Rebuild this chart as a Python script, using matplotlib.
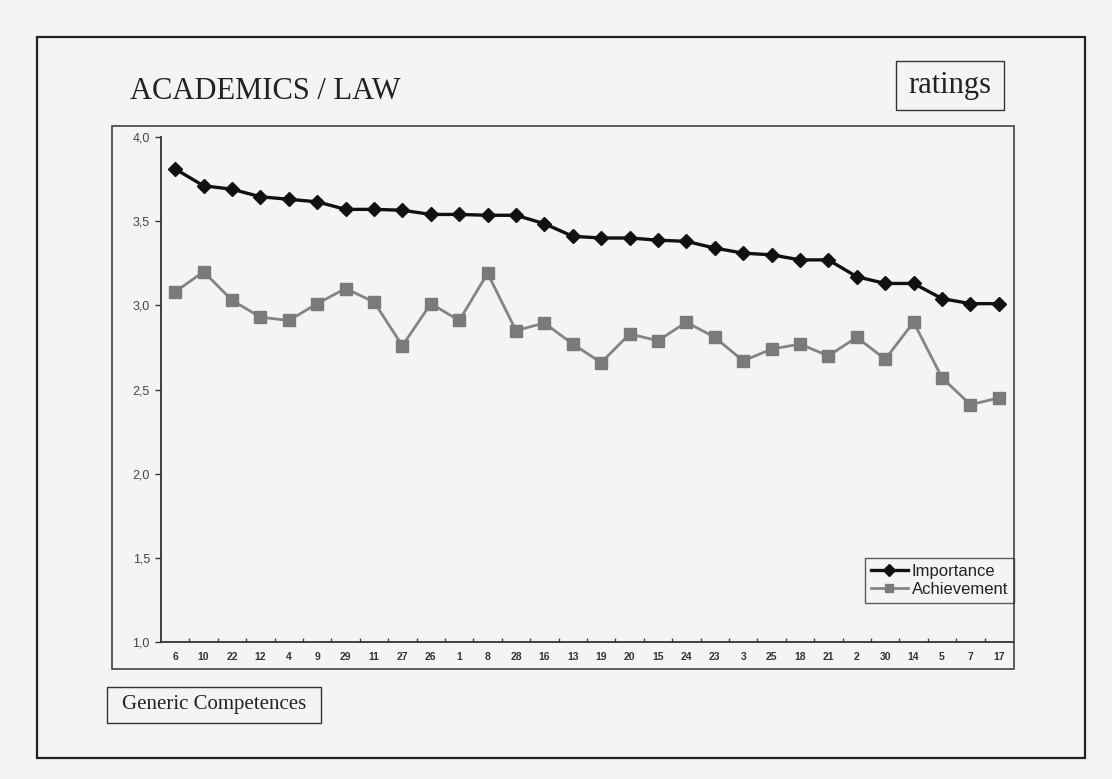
import matplotlib
matplotlib.use("Agg")
import matplotlib.pyplot as plt
from matplotlib.patches import Rectangle

categories = ["6", "10", "22", "12", "4", "9", "29", "11", "27", "26", "1", "8", "28", "16",
              "13", "19", "20", "15", "24", "23", "3", "25", "18", "21", "2", "30", "14", "5", "7", "17"]
importance = [3.81, 3.71, 3.69, 3.645, 3.63, 3.615, 3.57, 3.57, 3.565, 3.54, 3.54, 3.535, 3.535, 3.485,
              3.41, 3.40, 3.40, 3.387, 3.38, 3.34, 3.31, 3.30, 3.27, 3.27, 3.17, 3.13, 3.13, 3.04, 3.01, 3.01]
achievement = [3.08, 3.20, 3.03, 2.93, 2.91, 3.01, 3.10, 3.02, 2.76, 3.01, 2.91, 3.19, 2.85, 2.895,
               2.77, 2.66, 2.83, 2.79, 2.90, 2.81, 2.67, 2.74, 2.77, 2.70, 2.81, 2.68, 2.90, 2.57, 2.41, 2.45]
yticks = [1.0, 1.5, 2.0, 2.5, 3.0, 3.5, 4.0]
ytick_labels = ["1,0", "1,5", "2,0", "2,5", "3,0", "3,5", "4,0"]

W, H = 1112, 779
BG = "#f4f4f4"
fig = plt.figure(figsize=(W / 100, H / 100), dpi=100, facecolor=BG)


def fx(px):
    return px / W


def fy(py):
    return 1 - py / H


def rect(x0, y0, x1, y1, lw, color="#222222"):
    fig.patches.append(Rectangle((fx(x0), fy(y1)), fx(x1) - fx(x0), fy(y0) - fy(y1),
                                 transform=fig.transFigure, fill=False, lw=lw,
                                 edgecolor=color, zorder=0))


# outer frame, chart frame, label boxes
rect(37, 37, 1085, 758, 1.6)
rect(112, 126, 1014, 669, 1.1, "#333333")
rect(896, 61, 1004, 110, 1.0, "#333333")
rect(107, 687, 321, 723, 1.0, "#333333")

fig.text(fx(130), fy(99), "ACADEMICS / LAW", family="Liberation Serif", fontsize=22,
         color="#222222", va="baseline", ha="left")
fig.text(fx(950), fy(86), "ratings", family="Liberation Serif", fontsize=22,
         color="#222222", va="center", ha="center")
fig.text(fx(214), fy(705), "Generic Competences", family="Liberation Serif", fontsize=15,
         color="#222222", va="center", ha="center")

ax = fig.add_axes([fx(161), fy(642), fx(1013) - fx(161), fy(137) - fy(642)])
ax.set_facecolor(BG)
x = list(range(len(categories)))
ax.plot(x, importance, color="#111111", lw=2.4, marker="D", markersize=7,
        markerfacecolor="#111111", markeredgecolor="#111111", label="Importance", zorder=3)
ax.plot(x, achievement, color="#848484", lw=2.0, marker="s", markersize=8.5,
        markerfacecolor="#7a7a7a", markeredgecolor="#7a7a7a", label="Achievement", zorder=2)

ax.set_xlim(-0.5, len(categories) - 0.5)
ax.set_ylim(1.0, 4.0)
for s in ["top", "right"]:
    ax.spines[s].set_visible(False)
for s in ["left", "bottom"]:
    ax.spines[s].set_color("#333333")
    ax.spines[s].set_linewidth(1.3)

ax.set_yticks(yticks)
ax.set_yticklabels(ytick_labels, family="Liberation Sans", fontsize=9, color="#444444")
ax.tick_params(axis="y", direction="out", length=4, width=1, color="#333333", pad=4)

ax.set_xticks(x)
ax.set_xticklabels(categories, family="Liberation Sans", fontsize=7.5, fontweight="bold",
                   color="#333333")
ax.tick_params(axis="x", which="major", length=0, pad=7)
ax.set_xticks([i + 0.5 for i in x[:-1]], minor=True)
ax.tick_params(axis="x", which="minor", direction="in", length=3, width=1, color="#444444")

leg = ax.legend(loc="upper left", bbox_to_anchor=(fx(865), fy(558)),
                bbox_transform=fig.transFigure, borderaxespad=0, frameon=True,
                fancybox=False, numpoints=1, handlelength=2.2, handletextpad=0.25,
                borderpad=0.35, labelspacing=0.2, prop={"family": "Liberation Sans", "size": 12})
leg.get_frame().set_edgecolor("#333333")
leg.get_frame().set_facecolor(BG)
leg.get_frame().set_linewidth(1.0)
for t in leg.get_texts():
    t.set_color("#222222")
for h in leg.legend_handles:
    h.set_markersize(6)

fig.savefig("out.png", dpi=100, facecolor=BG)
